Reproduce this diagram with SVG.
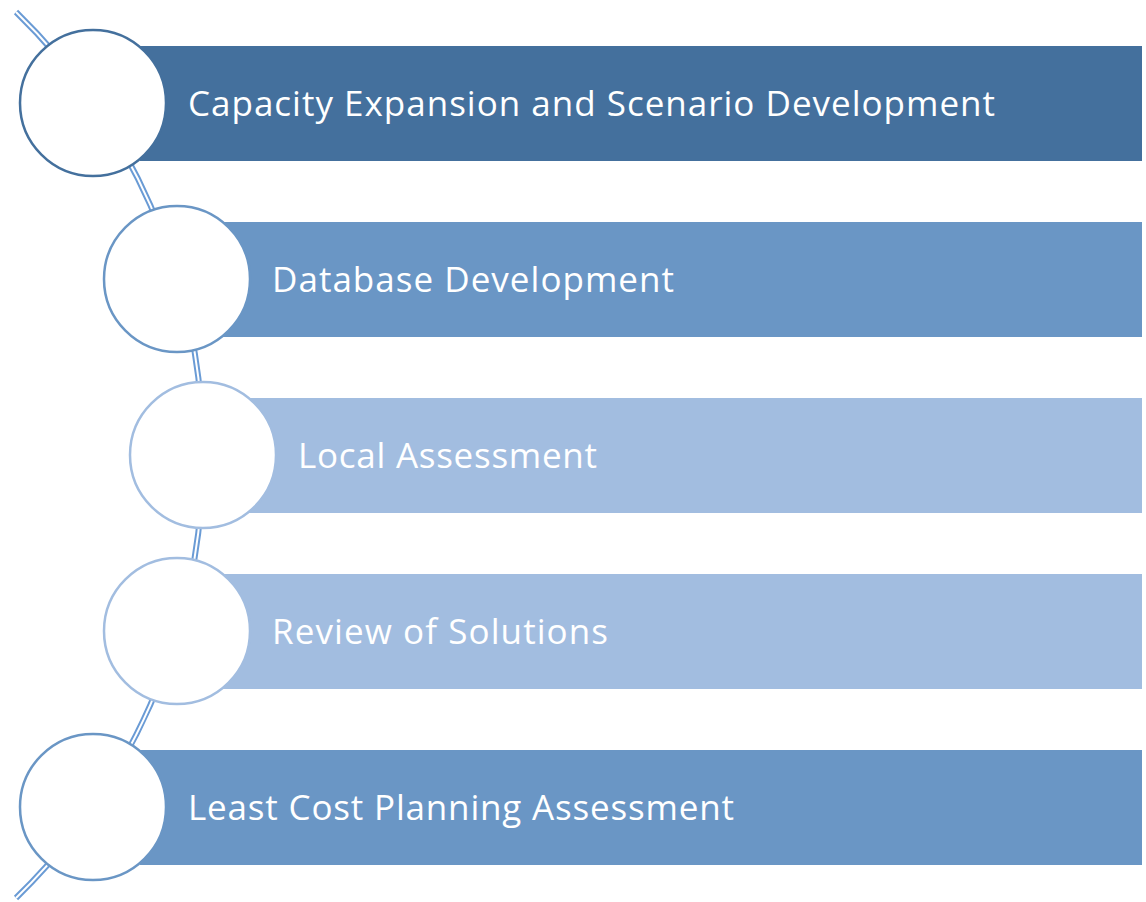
<svg xmlns="http://www.w3.org/2000/svg" width="1146" height="902" viewBox="0 0 1146 902">
<style>
.lbl{font-family:"Open Sans","Liberation Sans",sans-serif;font-size:35px;fill:#FFFFFF}
.c{fill:#FFFFFF;stroke-width:2.5}
.dark{fill:#44709D}
.mid{fill:#6A96C5}
.light{fill:#A2BDE0}
</style>
<rect width="1146" height="902" fill="#FFFFFF"/>
<g id="connectors">
<path d="M 16 12 A 618 618 0 0 1 16 898" fill="none" stroke="#6A9BD5" stroke-width="6"/>
<path d="M 16 12 A 618 618 0 0 1 16 898" fill="none" stroke="#FFFFFF" stroke-width="2"/>
</g>
<g id="step1">
<rect class="dark" x="140" y="46" width="1002" height="115"/>
<circle class="c" cx="93" cy="103" r="73" stroke="#44709D"/>
<text class="lbl" x="188" y="116" textLength="807">Capacity Expansion and Scenario Development</text>
</g>
<g id="step2">
<rect class="mid" x="223" y="222" width="919" height="115"/>
<circle class="c" cx="177" cy="279" r="73" stroke="#6A96C5"/>
<text class="lbl" x="272" y="292" textLength="402">Database Development</text>
</g>
<g id="step3">
<rect class="light" x="249" y="398" width="893" height="115"/>
<circle class="c" cx="203" cy="455" r="73" stroke="#A2BDE0"/>
<text class="lbl" x="298" y="468" textLength="299">Local Assessment</text>
</g>
<g id="step4">
<rect class="light" x="223" y="574" width="919" height="115"/>
<circle class="c" cx="177" cy="631" r="73" stroke="#A2BDE0"/>
<text class="lbl" x="272" y="644" textLength="336">Review of Solutions</text>
</g>
<g id="step5">
<rect class="mid" x="140" y="750" width="1002" height="115"/>
<circle class="c" cx="93" cy="807" r="73" stroke="#6A96C5"/>
<text class="lbl" x="188" y="820" textLength="546">Least Cost Planning Assessment</text>
</g>
</svg>
